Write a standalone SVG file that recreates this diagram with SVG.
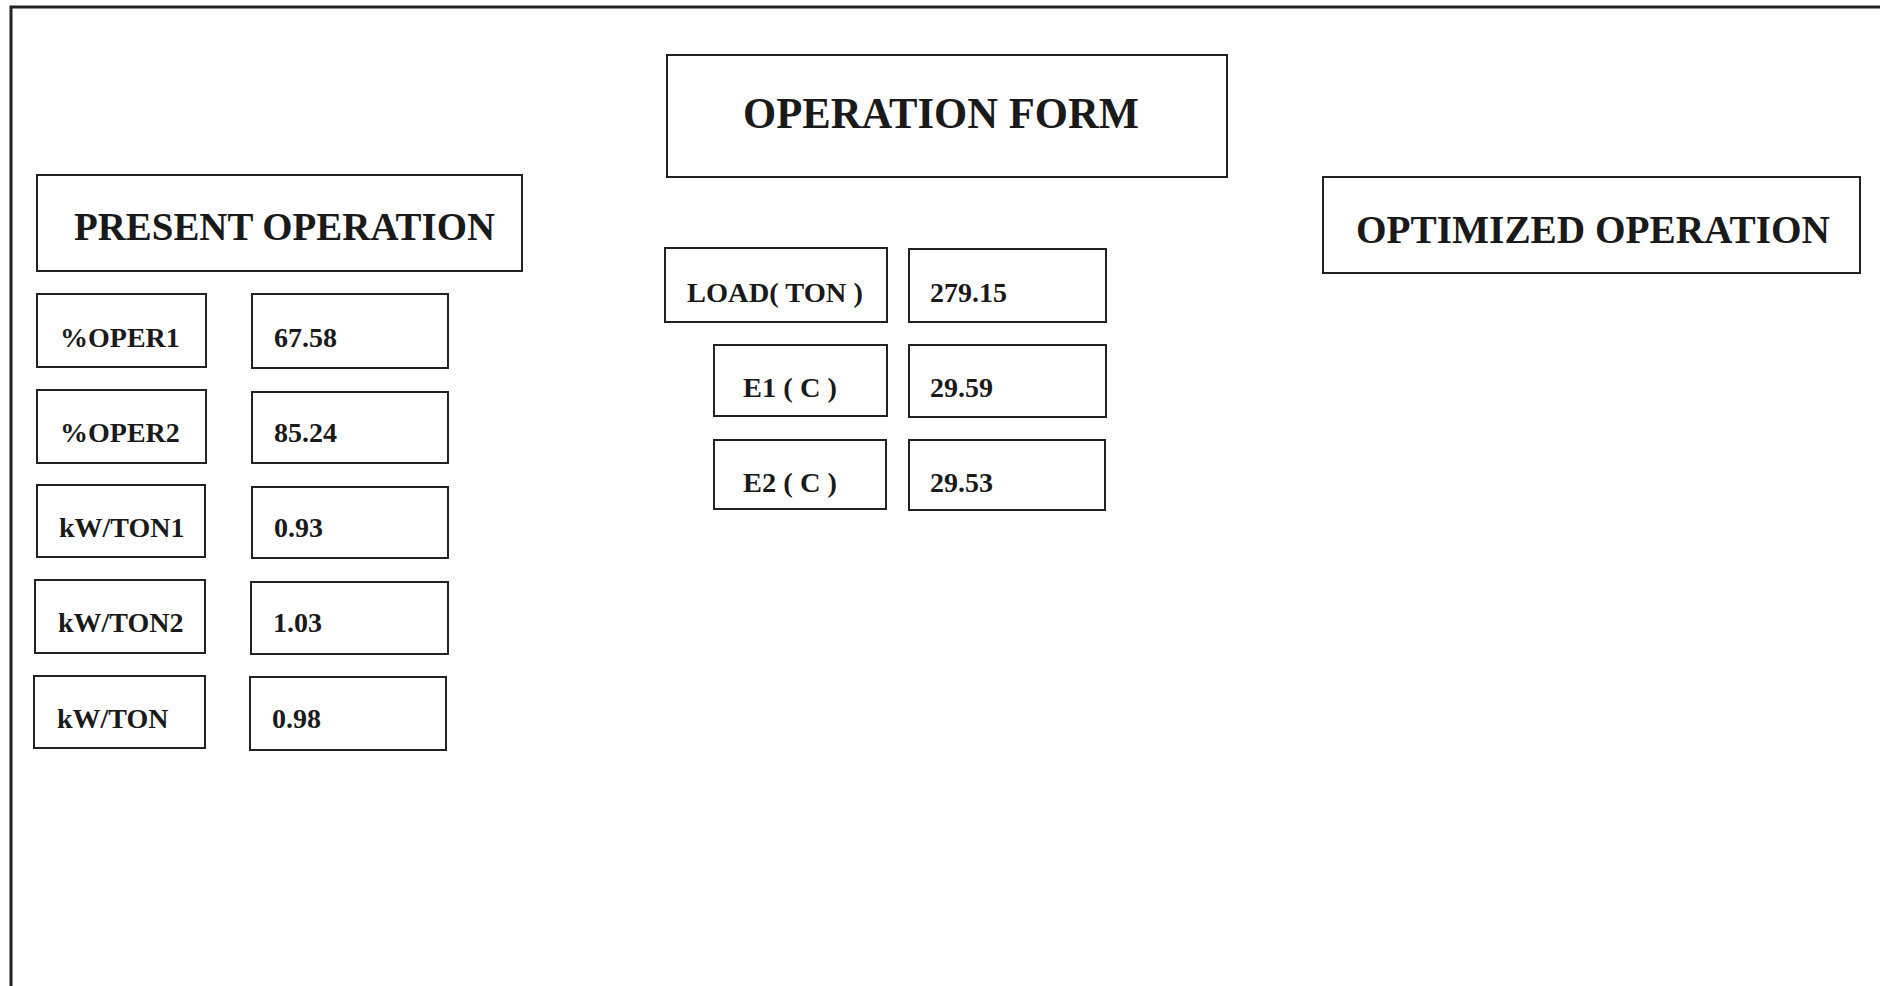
<svg xmlns="http://www.w3.org/2000/svg" width="1880" height="986" viewBox="0 0 1880 986">
<style>
.box{fill:#fff;stroke:#222;stroke-width:2}
.frame{fill:none;stroke:#222;stroke-width:3}
text{font-family:"Liberation Serif","Times New Roman",serif;font-weight:bold;fill:#1a1a1a}
.t{font-size:28px}
</style>
<rect width="1880" height="986" fill="#fff"/>
<g id="frame">
<path class="frame" d="M11,986 L11,7 L1880,7"/>
</g>
<g id="present-operation">
<rect class="box" x="37" y="175" width="485" height="96"/>
<text x="74" y="240" font-size="39" textLength="421" lengthAdjust="spacingAndGlyphs">PRESENT OPERATION</text>
</g>
<g id="operation-form">
<rect class="box" x="667" y="55" width="560" height="122"/>
<text x="743" y="128" font-size="44" textLength="396" lengthAdjust="spacingAndGlyphs">OPERATION FORM</text>
</g>
<g id="optimized-operation">
<rect class="box" x="1323" y="177" width="537" height="96"/>
<text x="1356" y="243" font-size="39" textLength="474" lengthAdjust="spacingAndGlyphs">OPTIMIZED OPERATION</text>
</g>
<g id="oper1-label"><rect class="box" x="37" y="294" width="169" height="73"/><text class="t" x="60" y="347">%OPER1</text></g>
<g id="oper1-value"><rect class="box" x="252" y="294" width="196" height="74"/><text class="t" x="274" y="347">67.58</text></g>
<g id="oper2-label"><rect class="box" x="37" y="390" width="169" height="73"/><text class="t" x="60" y="442">%OPER2</text></g>
<g id="oper2-value"><rect class="box" x="252" y="392" width="196" height="71"/><text class="t" x="274" y="442">85.24</text></g>
<g id="kwton1-label"><rect class="box" x="37" y="485" width="168" height="72"/><text class="t" x="59" y="537">kW/TON1</text></g>
<g id="kwton1-value"><rect class="box" x="252" y="487" width="196" height="71"/><text class="t" x="274" y="537">0.93</text></g>
<g id="kwton2-label"><rect class="box" x="35" y="580" width="170" height="73"/><text class="t" x="58" y="632">kW/TON2</text></g>
<g id="kwton2-value"><rect class="box" x="251" y="582" width="197" height="72"/><text class="t" x="273" y="632">1.03</text></g>
<g id="kwton-label"><rect class="box" x="34" y="676" width="171" height="72"/><text class="t" x="57" y="728">kW/TON</text></g>
<g id="kwton-value"><rect class="box" x="250" y="677" width="196" height="73"/><text class="t" x="272" y="728">0.98</text></g>
<g id="load-label"><rect class="box" x="665" y="248" width="222" height="74"/><text class="t" x="687" y="302" textLength="176" lengthAdjust="spacingAndGlyphs">LOAD( TON )</text></g>
<g id="load-value"><rect class="box" x="909" y="249" width="197" height="73"/><text class="t" x="930" y="302">279.15</text></g>
<g id="e1-label"><rect class="box" x="714" y="345" width="173" height="71"/><text class="t" x="743" y="397" textLength="94" lengthAdjust="spacingAndGlyphs">E1 ( C )</text></g>
<g id="e1-value"><rect class="box" x="909" y="345" width="197" height="72"/><text class="t" x="930" y="397">29.59</text></g>
<g id="e2-label"><rect class="box" x="714" y="440" width="172" height="69"/><text class="t" x="743" y="492" textLength="94" lengthAdjust="spacingAndGlyphs">E2 ( C )</text></g>
<g id="e2-value"><rect class="box" x="909" y="440" width="196" height="70"/><text class="t" x="930" y="492">29.53</text></g>
<g id="connectors"></g>
</svg>
